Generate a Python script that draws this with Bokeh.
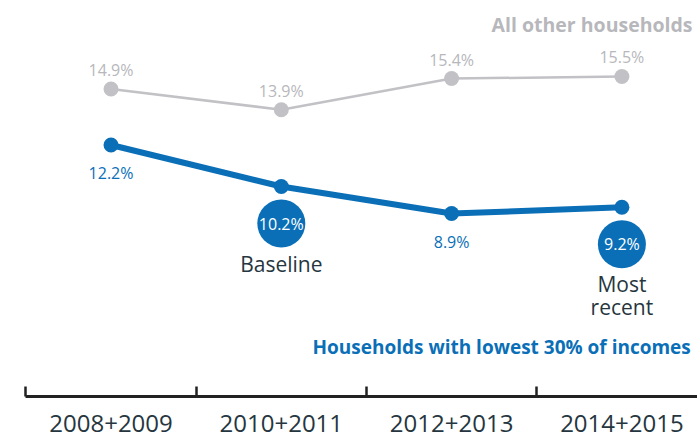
from bokeh.plotting import figure
from bokeh.models import FixedTicker, Range1d
from bokeh.core.properties import value
from bokeh.embed import file_html
from bokeh.resources import INLINE

# ---- data ----
periods = ["2008+2009", "2010+2011", "2012+2013", "2014+2015"]
other_households = [14.9, 13.9, 15.4, 15.5]
lowest_30 = [12.2, 10.2, 8.9, 9.2]
badge_index = [1, 3]
badge_notes = ["Baseline", "Most\nrecent"]
series_names = ["All other households", "Households with lowest 30% of incomes"]

BLUE = "#0a6fb7"
GRAY = "#c2c2c6"
GRAY_TXT = "#b7b7bc"
DARK = "#263640"
FONT = value("Open Sans")

W, H = 697, 440
BOTTOM = 44
Y_START, Y_END = 0.087, 19.16
PX_PER_UNIT = (H - BOTTOM) / (Y_END - Y_START)

xs = list(range(len(periods)))

p = figure(width=W, height=H, output_backend="svg", toolbar_location=None,
           x_range=Range1d(-0.649, 3.444), y_range=Range1d(Y_START, Y_END),
           min_border_left=0, min_border_right=0, min_border_top=0,
           min_border_bottom=BOTTOM)
p.outline_line_color = None
p.grid.visible = False
p.yaxis.visible = False
p.background_fill_color = "white"
p.border_fill_color = "white"

ax = p.xaxis[0]
ax.ticker = FixedTicker(ticks=xs, minor_ticks=[i - 0.5 for i in xs] + [len(xs) - 0.5])
ax.major_label_overrides = {i: s for i, s in enumerate(periods)}
ax.major_tick_line_color = None
ax.minor_tick_line_color = "#222222"
ax.minor_tick_line_width = 2.5
ax.minor_tick_in = 10
ax.minor_tick_out = 0
ax.axis_line_color = "#222222"
ax.axis_line_width = 3
ax.bounds = (-0.5, 3.6)
ax.major_label_text_font = "Open Sans"
ax.major_label_text_font_size = "24px"
ax.major_label_text_color = DARK
ax.major_label_standoff = 12

# gray series
p.line(xs, other_households, line_color=GRAY, line_width=2.5)
p.scatter(xs, other_households, size=15, fill_color=GRAY, line_color=None)
p.text(xs, other_households, text=[f"{v}%" for v in other_households],
       text_align="center", text_baseline="bottom", y_offset=-8,
       text_font=FONT, text_font_size="16px", text_color=GRAY_TXT)

# blue series
p.line(xs, lowest_30, line_color=BLUE, line_width=6)
p.scatter(xs, lowest_30, size=15, fill_color=BLUE, line_color=None)
nb = [i for i in xs if i not in badge_index]
p.text([xs[i] for i in nb], [lowest_30[i] for i in nb],
       text=[f"{lowest_30[i]}%" for i in nb],
       text_align="center", text_baseline="top", y_offset=17,
       text_font=FONT, text_font_size="16px",
       text_color=BLUE)

# badges
BADGE_OFF = 37 / PX_PER_UNIT
bx = [xs[i] for i in badge_index]
by = [lowest_30[i] - BADGE_OFF for i in badge_index]
p.scatter(bx, by, size=48, fill_color=BLUE, line_color=None)
p.text(bx, by, text=[f"{lowest_30[i]}%" for i in badge_index],
       text_align="center", text_baseline="middle",
       text_font=FONT, text_font_size="16px",
       text_color="white")
p.text(bx, by, text=badge_notes, text_align="center", text_baseline="top",
       y_offset=26, text_font=FONT, text_font_size="21px", text_color=DARK,
       text_line_height=0.82)

# series names
p.text([3.415], [18.0], text=[series_names[0]], text_align="right",
       text_baseline="alphabetic", text_font=FONT, text_font_size="19.5px",
       text_font_style="bold", text_color=GRAY_TXT)
p.text([1.183], [2.45], text=[series_names[1]], text_align="left",
       text_baseline="alphabetic", text_font=FONT, text_font_size="19px",
       text_font_style="bold", text_color=BLUE)

open("out.html", "w").write(file_html(p, INLINE))
